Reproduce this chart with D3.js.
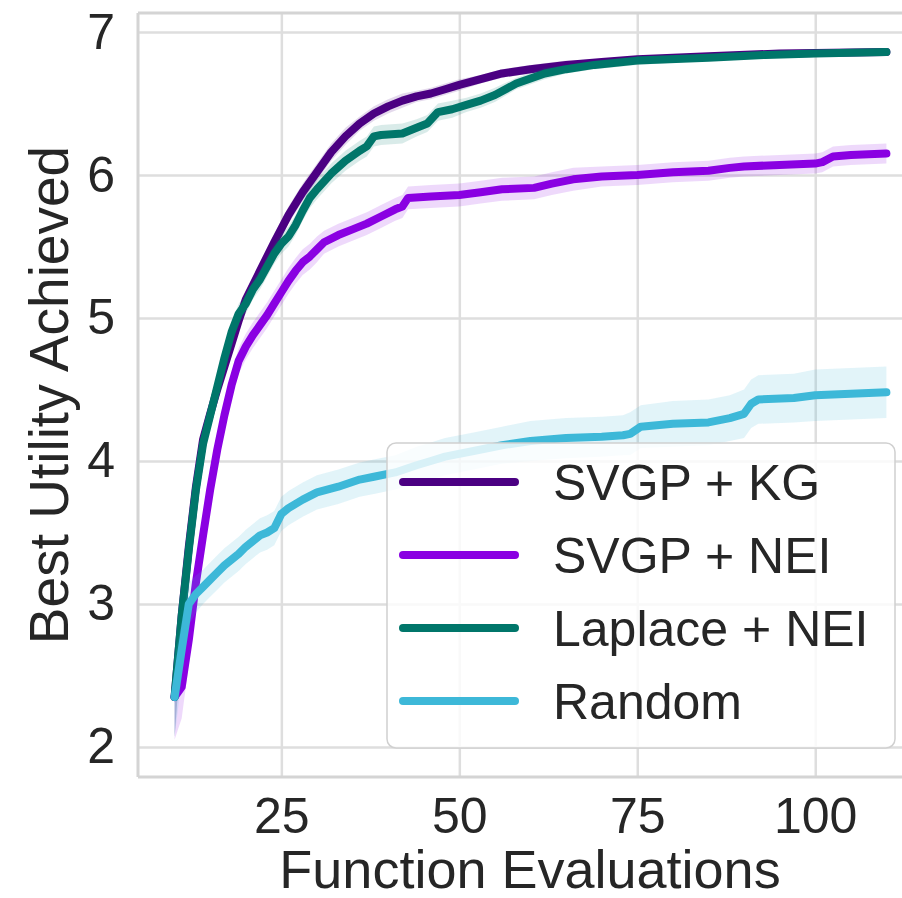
<!DOCTYPE html>
<html>
<head>
<meta charset="utf-8">
<script src="https://cdn.jsdelivr.net/npm/d3@7"></script>
<style>
  html, body { margin: 0; padding: 0; background: #fff; }
  svg { display: block; font-family: "Liberation Sans", Arial, sans-serif; }
</style>
</head>
<body>
<svg id="chart" width="902" height="898"></svg>
<script>
// Best utility achieved vs. number of function evaluations (mean with CI band)

const seriesNames = ["SVGP + KG", "SVGP + NEI", "Laplace + NEI", "Random"];
const seriesColors = ["#4B0082", "#8A00E2", "#00766A", "#3DB8D8"];

const kgX = [10,11,12,13,14,15,16,17,18,19,20,22,24,26,28,30,32,34,36,38,40,42,44,46,48,50,53,56,60,65,70,75,85,95,110];
const kgMean = [2.35,2.92,3.40,3.82,4.15,4.33,4.50,4.66,4.82,4.98,5.13,5.33,5.53,5.72,5.88,6.02,6.16,6.27,6.36,6.43,6.48,6.52,6.55,6.57,6.60,6.63,6.67,6.71,6.74,6.77,6.79,6.81,6.83,6.85,6.86];
const kgCI = [0.28,0.18,0.14,0.12,0.10,0.09,0.08,0.07,0.07,0.06,0.06,0.06,0.06,0.06,0.06,0.06,0.06,0.06,0.05,0.05,0.05,0.05,0.04,0.04,0.04,0.04,0.03,0.03,0.03,0.03,0.02,0.02,0.02,0.02,0.02];

const neiX = [10,11,12,13,14,15,16,17,18,19,20,21,22,23,24,25,26,27,28,29,30,31,33,35,37,39,41,42,42.8,46,50,53,56,60.5,63,66,70,75,80,85,88,90,95,100,101,102.5,105,110];
const neiMean = [2.35,2.42,2.75,3.15,3.48,3.80,4.08,4.32,4.53,4.70,4.80,4.88,4.95,5.02,5.10,5.18,5.26,5.33,5.39,5.43,5.48,5.53,5.58,5.62,5.66,5.71,5.76,5.78,5.84,5.85,5.86,5.88,5.90,5.91,5.94,5.97,5.99,6.00,6.02,6.03,6.05,6.06,6.07,6.08,6.09,6.13,6.14,6.15];
const neiCI = [0.30,0.22,0.17,0.14,0.12,0.11,0.10,0.10,0.09,0.09,0.09,0.09,0.09,0.09,0.09,0.09,0.09,0.09,0.09,0.09,0.09,0.08,0.08,0.08,0.08,0.08,0.08,0.08,0.08,0.08,0.08,0.08,0.08,0.08,0.08,0.08,0.07,0.07,0.07,0.07,0.07,0.07,0.07,0.07,0.07,0.07,0.07,0.07,0.07];

const lapX = [10,11,12,13,14,15,16,17,18,19,20,21,22,24,25,26,27,28,29,30,32,34,36,37,38,39,42,44,45.5,47,49,51,53,55,58,62,65,69,75,85,93,100,110];
const lapMean = [2.35,2.92,3.38,3.80,4.12,4.32,4.52,4.72,4.90,5.03,5.10,5.20,5.27,5.45,5.52,5.57,5.65,5.75,5.84,5.90,6.01,6.10,6.17,6.20,6.27,6.28,6.29,6.33,6.36,6.44,6.46,6.49,6.52,6.56,6.64,6.71,6.74,6.77,6.80,6.82,6.84,6.85,6.86];
const lapCI = [0.28,0.18,0.14,0.12,0.10,0.09,0.08,0.08,0.07,0.07,0.07,0.07,0.07,0.07,0.07,0.07,0.07,0.07,0.07,0.07,0.07,0.07,0.07,0.07,0.07,0.07,0.07,0.06,0.06,0.06,0.06,0.05,0.05,0.05,0.04,0.04,0.03,0.03,0.03,0.02,0.02,0.02,0.02];

const rndX = [10,11,12,13,14,15,16,17,18,19,20,21,22,23,24,25,26,27,28,30,33,36,38,41,44,46,48,52,56,60,65,70,73,74,75.5,80,85,88,90,91,92,97,100,105,110];
const rndMean = [2.35,2.68,3.00,3.07,3.12,3.17,3.22,3.27,3.31,3.35,3.40,3.44,3.48,3.50,3.53,3.63,3.67,3.70,3.73,3.78,3.82,3.87,3.89,3.92,3.97,4.00,4.03,4.07,4.11,4.14,4.16,4.17,4.18,4.19,4.24,4.26,4.27,4.30,4.33,4.40,4.43,4.44,4.46,4.47,4.48];
const rndCI = [0.28,0.20,0.15,0.13,0.12,0.12,0.12,0.12,0.12,0.12,0.12,0.12,0.12,0.12,0.12,0.12,0.12,0.12,0.12,0.12,0.12,0.12,0.12,0.12,0.13,0.13,0.13,0.13,0.13,0.14,0.14,0.14,0.14,0.15,0.15,0.16,0.16,0.16,0.17,0.17,0.17,0.17,0.18,0.18,0.18];

const xTicks = [25, 50, 75, 100];
const yTicks = [2, 3, 4, 5, 6, 7];
const xTitle = "Function Evaluations";
const yTitle = "Best Utility Achieved";

const seriesData = [
  { x: kgX, mean: kgMean, ci: kgCI },
  { x: neiX, mean: neiMean, ci: neiCI },
  { x: lapX, mean: lapMean, ci: lapCI },
  { x: rndX, mean: rndMean, ci: rndCI }
];

const svg = d3.select("#chart");
const plotLeft = 138, plotTop = 13, plotRight = 922, plotBottom = 777;

const x = d3.scaleLinear().domain([5, 115]).range([139, plotRight]);
const y = d3.scaleLinear().domain([1.79, 7.133]).range([plotBottom, plotTop]);

const gridColor = "#dedede";
const textColor = "#262626";

svg.append("defs").append("clipPath").attr("id", "plotClip")
  .append("rect").attr("x", plotLeft).attr("y", plotTop)
  .attr("width", plotRight - plotLeft).attr("height", plotBottom - plotTop);

// y axis with grid
const yAxis = svg.append("g")
  .attr("transform", `translate(${plotLeft},0)`)
  .call(d3.axisLeft(y).tickValues(yTicks).tickFormat(d3.format("d"))
    .tickSizeInner(-(plotRight - plotLeft)).tickSizeOuter(0).tickPadding(23));
yAxis.select(".domain").remove();
yAxis.selectAll(".tick line").attr("stroke", gridColor).attr("stroke-width", 2.5);
yAxis.selectAll(".tick text").attr("font-size", 50).attr("fill", textColor)
  .attr("font-family", "'Liberation Sans', Arial, sans-serif");

// x axis with grid
const xAxis = svg.append("g")
  .attr("transform", `translate(0,${plotBottom})`)
  .call(d3.axisBottom(x).tickValues(xTicks).tickFormat(d3.format("d"))
    .tickSizeInner(-(plotBottom - plotTop)).tickSizeOuter(0).tickPadding(20));
xAxis.select(".domain").remove();
xAxis.selectAll(".tick line").attr("stroke", gridColor).attr("stroke-width", 2.5);
xAxis.selectAll(".tick text").attr("font-size", 50).attr("fill", textColor)
  .attr("font-family", "'Liberation Sans', Arial, sans-serif");

// frame
const spine = "#d4d4d4";
svg.append("line").attr("x1", plotLeft).attr("x2", plotLeft).attr("y1", plotTop).attr("y2", plotBottom)
  .attr("stroke", spine).attr("stroke-width", 3);
svg.append("line").attr("x1", plotLeft).attr("x2", plotRight).attr("y1", plotTop).attr("y2", plotTop)
  .attr("stroke", spine).attr("stroke-width", 3);
svg.append("line").attr("x1", plotLeft).attr("x2", plotRight).attr("y1", plotBottom).attr("y2", plotBottom)
  .attr("stroke", spine).attr("stroke-width", 3);

// bands and lines
const plot = svg.append("g").attr("clip-path", "url(#plotClip)");
const area = d3.area().x(d => x(d[0])).y0(d => y(d[1] - d[2])).y1(d => y(d[1] + d[2]));
const line = d3.line().x(d => x(d[0])).y(d => y(d[1]));

seriesData.forEach((s, i) => {
  const pts = s.x.map((v, j) => [v, s.mean[j], s.ci[j]]);
  plot.append("path").datum(pts).attr("d", area)
    .attr("fill", seriesColors[i]).attr("fill-opacity", 0.15).attr("stroke", "none");
  plot.append("path").datum(pts).attr("d", line)
    .attr("fill", "none").attr("stroke", seriesColors[i]).attr("stroke-width", 8)
    .attr("stroke-linecap", "round").attr("stroke-linejoin", "round");
});

// axis titles
svg.append("text").attr("x", (plotLeft + plotRight) / 2).attr("y", 888)
  .attr("text-anchor", "middle").attr("font-size", 54).attr("fill", textColor)
  .text(xTitle);
svg.append("text").attr("transform", `translate(68,${(plotTop + plotBottom) / 2}) rotate(-90)`)
  .attr("text-anchor", "middle").attr("font-size", 55).attr("fill", textColor)
  .text(yTitle);

// legend
const lg = svg.append("g");
lg.append("rect").attr("x", 387).attr("y", 443).attr("width", 508).attr("height", 305)
  .attr("rx", 9).attr("fill", "#fff").attr("fill-opacity", 0.8)
  .attr("stroke", "#d0d0d0").attr("stroke-width", 1.5);
seriesNames.forEach((name, i) => {
  const ly = 482 + i * 73;
  lg.append("line").attr("x1", 403).attr("x2", 515).attr("y1", ly).attr("y2", ly)
    .attr("stroke", seriesColors[i]).attr("stroke-width", 8).attr("stroke-linecap", "round");
  lg.append("text").attr("x", 553).attr("y", ly + 18).attr("font-size", 50)
    .attr("fill", textColor).text(name);
});
</script>
</body>
</html>
